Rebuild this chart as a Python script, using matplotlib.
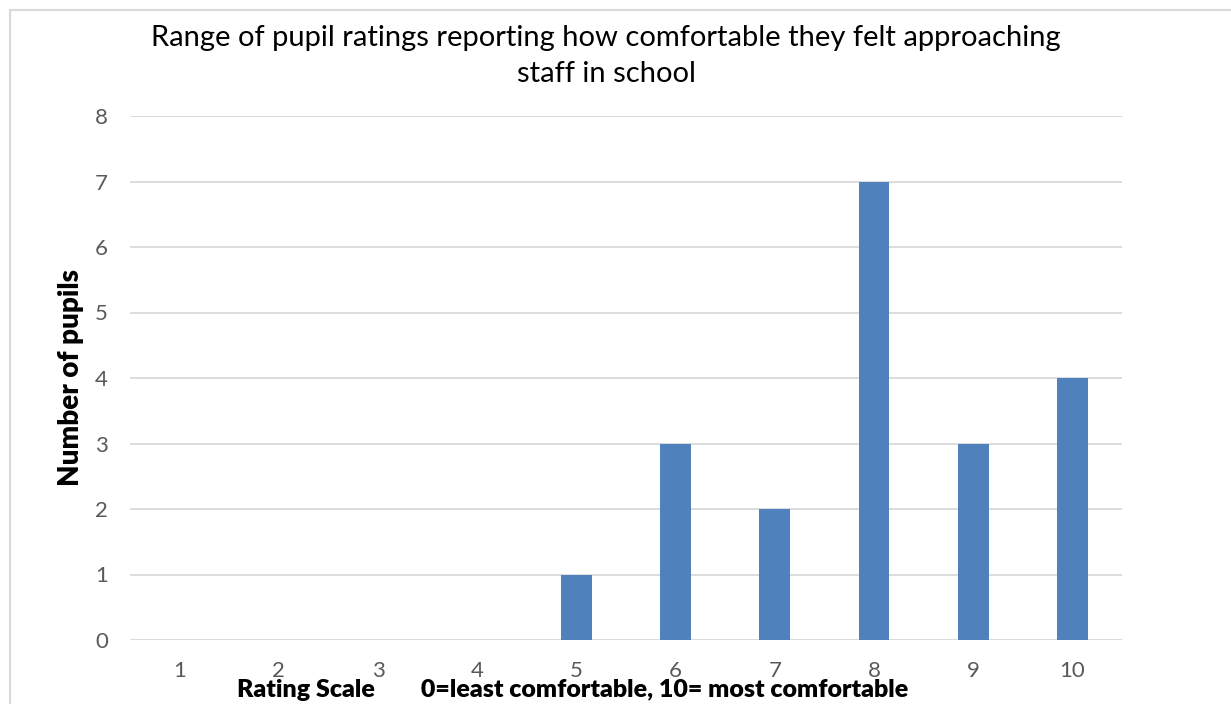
import matplotlib.pyplot as plt
from matplotlib.patches import Rectangle

# Data
ratings = [1, 2, 3, 4, 5, 6, 7, 8, 9, 10]
pupils = [0, 0, 0, 0, 1, 3, 2, 7, 3, 4]

plt.rcParams['font.family'] = ['Lato', 'DejaVu Sans']

fig = plt.figure(figsize=(12.31, 7.04), dpi=100)
ax = fig.add_axes([130 / 1231, 64 / 704, 992 / 1231, 524 / 704])

ax.bar(ratings, pupils, width=0.31, color='#4f81bd', zorder=3)

ax.set_xlim(0.5, 10.5)
ax.set_ylim(0, 8)
ax.set_xticks(ratings)
ax.set_yticks(range(0, 9))
ax.grid(axis='y', color='#d9d9d9', linewidth=1.3, zorder=0)
for s in ax.spines.values():
    s.set_visible(False)
ax.tick_params(length=0, labelsize=16, labelcolor='#595959')
ax.tick_params(axis='x', pad=15)
ax.tick_params(axis='y', pad=16)

ax.set_ylabel('Number of pupils', fontsize=20, fontweight='heavy')
ax.yaxis.set_label_coords((84 - 130) / 992, (640 - 378) / 524)

fig.text(606 / 1231, 1 - 56 / 704,
         'Range of pupil ratings reporting how comfortable they felt approaching\nstaff in school',
         ha='center', va='center', fontsize=21, linespacing=1.45)
fig.text(573 / 1231, 1 - 690 / 704,
         'Rating Scale        0=least comfortable, 10= most comfortable',
         ha='center', va='center', fontsize=18, fontweight='heavy')

# chart border
fig.patches.append(Rectangle((10 / 1231, -0.1), 1.2, 1 - 10 / 704 + 0.1,
                             transform=fig.transFigure, fill=False,
                             edgecolor='#d9d9d9', linewidth=1.5))

fig.savefig('out.png', dpi=100)
